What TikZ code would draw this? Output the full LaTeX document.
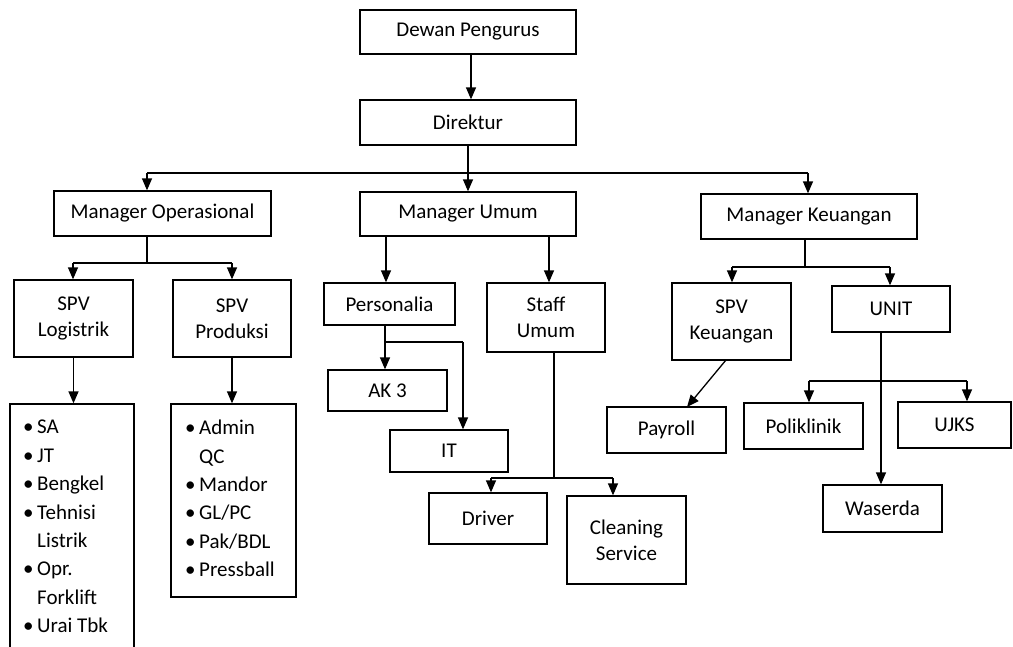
\documentclass[tikz,border=0pt]{standalone}
\usepackage{fontspec}
\setmainfont{Carlito}
\usetikzlibrary{arrows.meta}
\begin{document}
\begin{tikzpicture}[x=1pt,y=-1pt,
  box/.style={draw, line width=1.3pt, inner sep=0pt, align=center, font=\fontsize{21}{26}\selectfont},
  listtext/.style={inner sep=0pt, align=left, anchor=north west, font=\fontsize{21}{28.4}\selectfont},
  ln/.style={line width=1.3pt},
  arr/.style={line width=1.3pt, -{Triangle[width=10pt,length=12pt]}}]
\useasboundingbox (0,0) rectangle (1013,646);
% boxes
\node[box, minimum width=216pt, minimum height=44pt] (dewan) at (468,32) {Dewan Pengurus};
\node[box, minimum width=216pt, minimum height=45pt] (dir) at (468,122.5) {Direktur};
\node[box, minimum width=217pt, minimum height=45pt] (mops) at (162.5,213.5) {Manager Operasional};
\node[box, minimum width=216pt, minimum height=44pt] (mum) at (468,214) {Manager Umum};
\node[box, minimum width=216pt, minimum height=45pt] (mkeu) at (809,216.5) {Manager Keuangan};
\node[box, minimum width=119pt, minimum height=77pt] (spvlog) at (73.5,318.5) {SPV\\Logistrik};
\node[box, minimum width=118pt, minimum height=77pt] (spvprod) at (232,318.5) {SPV\\Produksi};
\node[box, minimum width=124pt, minimum height=266pt] (loglist) at (72,537) {};
\node[box, minimum width=125pt, minimum height=193pt] (prodlist) at (233.5,500.5) {};
\node[box, minimum width=131pt, minimum height=42pt] (pers) at (389.5,304) {Personalia};
\node[box, minimum width=118pt, minimum height=69pt] (staff) at (546,317.5) {Staff\\Umum};
\node[box, minimum width=119pt, minimum height=41pt] (ak3) at (387.5,390.5) {AK 3};
\node[box, minimum width=118pt, minimum height=42pt] (it) at (449,451) {IT};
\node[box, minimum width=118pt, minimum height=51pt] (driver) at (488,518.5) {Driver};
\node[box, minimum width=119pt, minimum height=88pt] (clean) at (626.5,540) {Cleaning\\Service};
\node[box, minimum width=119pt, minimum height=77pt] (spvkeu) at (731.5,321.5) {SPV\\Keuangan};
\node[box, minimum width=118pt, minimum height=46pt] (unit) at (891,309) {UNIT};
\node[box, minimum width=119pt, minimum height=46pt] (payroll) at (666.5,430) {Payroll};
\node[box, minimum width=119pt, minimum height=46pt] (poli) at (803.5,426) {Poliklinik};
\node[box, minimum width=113pt, minimum height=46pt] (ujks) at (954.5,425) {UJKS};
\node[box, minimum width=119pt, minimum height=47pt] (waserda) at (882.5,508.5) {Waserda};
% list texts
\node[listtext] (logtxt) at (23,420) {\makebox[14pt][l]{•}SA\\\makebox[14pt][l]{•}JT\\\makebox[14pt][l]{•}Bengkel\\\makebox[14pt][l]{•}Tehnisi\\\makebox[14pt]{}Listrik\\\makebox[14pt][l]{•}Opr.\\\makebox[14pt]{}Forklift\\\makebox[14pt][l]{•}Urai Tbk};
\node[listtext] (prodtxt) at (185,420) {\makebox[14pt][l]{•}Admin\\\makebox[14pt]{}QC\\\makebox[14pt][l]{•}Mandor\\\makebox[14pt][l]{•}GL/PC\\\makebox[14pt][l]{•}Pak/BDL\\\makebox[14pt][l]{•}Pressball};
% helper coordinates
\coordinate (bl) at (147,173);
\coordinate (br) at (808,173);
\coordinate (opsj) at (147,263);
\coordinate (opsl) at (73,263);
\coordinate (opsr) at (232,263);
\coordinate (um1) at (386,0);
\coordinate (um2) at (549,0);
\coordinate (pj) at (385,342);
\coordinate (pk) at (463,342);
\coordinate (sj) at (554,478);
\coordinate (sl) at (491,478);
\coordinate (sr) at (613,478);
\coordinate (kj) at (805,267);
\coordinate (kl) at (732,267);
\coordinate (kr) at (890,267);
\coordinate (uj) at (881,0);
\coordinate (ul) at (809,381);
\coordinate (ur) at (967,381);
\coordinate (d1) at (471,0);
\coordinate (pa) at (726,360);
\coordinate (pb) at (687,407);
% connectors
\draw[arr] (dewan.south -| d1) -- (dir.north -| d1);
\draw[arr] (dir) -- (mum);
\draw[ln] (bl) -- (br);
\draw[arr] (bl) -- (bl |- mops.north);
\draw[arr] (br) -- (br |- mkeu.north);
\draw[ln] (mops.south -| opsj) -- (opsj);
\draw[ln] (opsl) -- (opsr);
\draw[arr] (opsl) -- (opsl |- spvlog.north);
\draw[arr] (opsr) -- (opsr |- spvprod.north);
\draw[arr] (spvlog) -- (spvlog |- loglist.north);
\draw[arr] (spvprod) -- (spvprod |- prodlist.north);
\draw[arr] (mum.south -| um1) -- (pers.north -| um1);
\draw[arr] (mum.south -| um2) -- (staff.north -| um2);
\draw[arr] (pers.south -| pj) -- (ak3.north -| pj);
\draw[ln] (pj) -- (pk);
\draw[arr] (pk) -- (it.north -| pk);
\draw[ln] (staff.south -| sj) -- (sj);
\draw[ln] (sl) -- (sr);
\draw[arr] (sl) -- (driver.north -| sl);
\draw[arr] (sr) -- (clean.north -| sr);
\draw[ln] (mkeu.south -| kj) -- (kj);
\draw[ln] (kl) -- (kr);
\draw[arr] (kl) -- (spvkeu.north -| kl);
\draw[arr] (kr) -- (unit.north -| kr);
\draw[arr] (pa) -- (pb);
\draw[arr] (unit.south -| uj) -- (waserda.north -| uj);
\draw[ln] (ul) -- (ur);
\draw[arr] (ul) -- (poli.north -| ul);
\draw[arr] (ur) -- (ujks.north -| ur);
\end{tikzpicture}
\end{document}
